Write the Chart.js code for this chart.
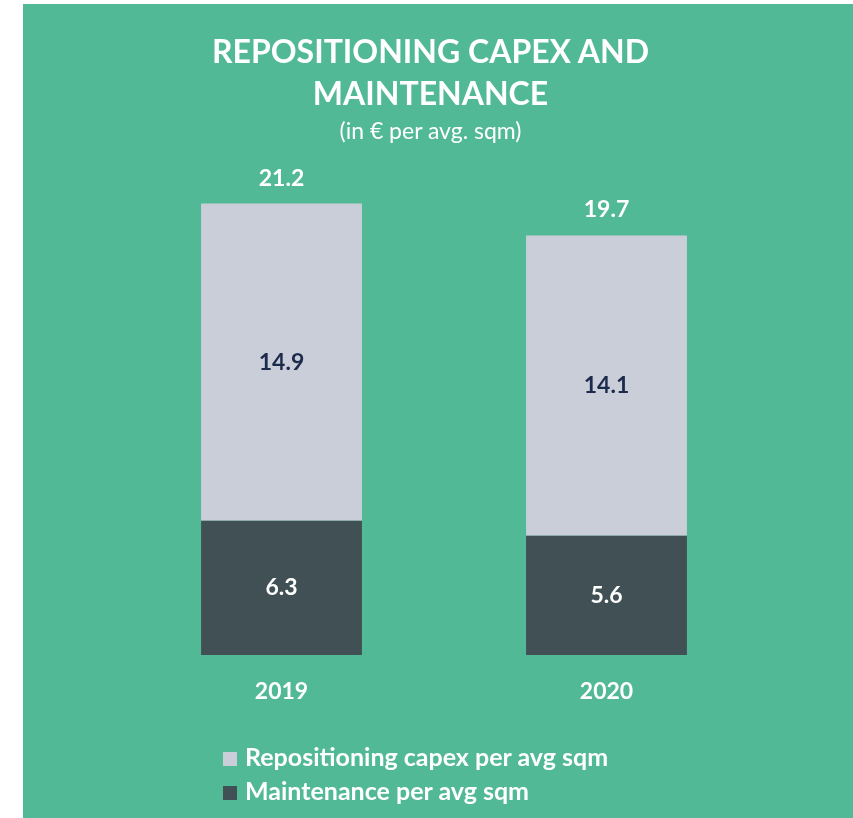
<!DOCTYPE html>
<html>
<head>
<meta charset="utf-8">
<script src="https://cdn.jsdelivr.net/npm/chart.js@4"></script>
<style>
  body { margin: 0; background: #ffffff; font-family: Lato, "Open Sans", sans-serif; }
  .panel { position: absolute; left: 23px; top: 4px; width: 830px; height: 814px; background: #52b996; }
  .title { position: absolute; left: 0; top: 26px; width: 815px; text-align: center; color: #fff;
           font-weight: bold; font-size: 32px; line-height: 42px; }
  .subtitle { position: absolute; left: 0; top: 112px; width: 815px; text-align: center; color: #fff;
              font-size: 23px; }
  .chart-box { position: absolute; left: 0; top: 0; width: 830px; height: 814px; }
  .legend { position: absolute; left: 200px; top: 735px; color: #fff; font-weight: bold; font-size: 25px; }
  .legend div { height: 34px; line-height: 34px; }
  .legend span { display: inline-block; width: 14px; height: 14px; margin-right: 8px; }
</style>
</head>
<body>
<div class="panel">
  <div class="chart-box"><canvas id="capexChart"></canvas></div>
  <div class="title">REPOSITIONING CAPEX AND<br>MAINTENANCE</div>
  <div class="subtitle">(in € per avg. sqm)</div>
  <div class="legend" id="legend"></div>
</div>
<script>
const years = ['2019', '2020'];
const maintenance = [6.3, 5.6];
const repositioning = [14.9, 14.1];

const seriesNames = ['Maintenance per avg sqm', 'Repositioning capex per avg sqm'];
const seriesColors = ['#415055', '#c9ced9'];
const segmentLabelColors = ['#ffffff', '#1c2a4b'];

// writes the value inside each segment and the stack total above the bar
const barLabels = {
  id: 'barLabels',
  afterDatasetsDraw(chart) {
    const ctx = chart.ctx;
    ctx.save();
    ctx.font = 'bold 23px Lato, "Open Sans", sans-serif';
    ctx.textAlign = 'center';
    chart.data.datasets.forEach((ds, i) => {
      const meta = chart.getDatasetMeta(i);
      ctx.fillStyle = segmentLabelColors[i];
      ctx.textBaseline = 'middle';
      meta.data.forEach((bar, j) => {
        ctx.fillText(ds.data[j].toFixed(1), bar.x, (bar.y + bar.base) / 2);
      });
    });
    const topMeta = chart.getDatasetMeta(chart.data.datasets.length - 1);
    ctx.fillStyle = '#ffffff';
    ctx.textBaseline = 'bottom';
    topMeta.data.forEach((bar, j) => {
      const total = maintenance[j] + repositioning[j];
      ctx.fillText(total.toFixed(1), bar.x, bar.y - 14);
    });
    ctx.restore();
  }
};

const ctx = document.getElementById('capexChart').getContext('2d');
const capexChart = new Chart(ctx, {
  type: 'bar',
  data: {
    labels: years,
    datasets: [
      { label: seriesNames[0], data: maintenance, backgroundColor: seriesColors[0] },
      { label: seriesNames[1], data: repositioning, backgroundColor: seriesColors[1] }
    ]
  },
  options: {
    responsive: true,
    maintainAspectRatio: false,
    animation: false,
    datasets: { bar: { barPercentage: 0.495, categoryPercentage: 1 } },
    layout: { padding: { left: 96, right: 84, top: 140, bottom: 103 } },
    plugins: {
      legend: { display: false },
      tooltip: { enabled: false }
    },
    scales: {
      x: {
        stacked: true,
        grid: { display: false, drawTicks: false },
        border: { display: false },
        ticks: { color: '#ffffff', padding: 23, font: { family: 'Lato', size: 23, weight: 'bold' } },
        afterFit: (scale) => { scale.height = 60; }
      },
      y: {
        stacked: true,
        display: false,
        min: 0,
        max: 24
      }
    }
  },
  plugins: [barLabels]
});

// legend in the same order as the stack, top segment first
const legend = document.getElementById('legend');
for (let i = seriesNames.length - 1; i >= 0; i--) {
  const row = document.createElement('div');
  row.innerHTML = `<span style="background:${seriesColors[i]}"></span>${seriesNames[i]}`;
  legend.appendChild(row);
}
</script>
</body>
</html>
